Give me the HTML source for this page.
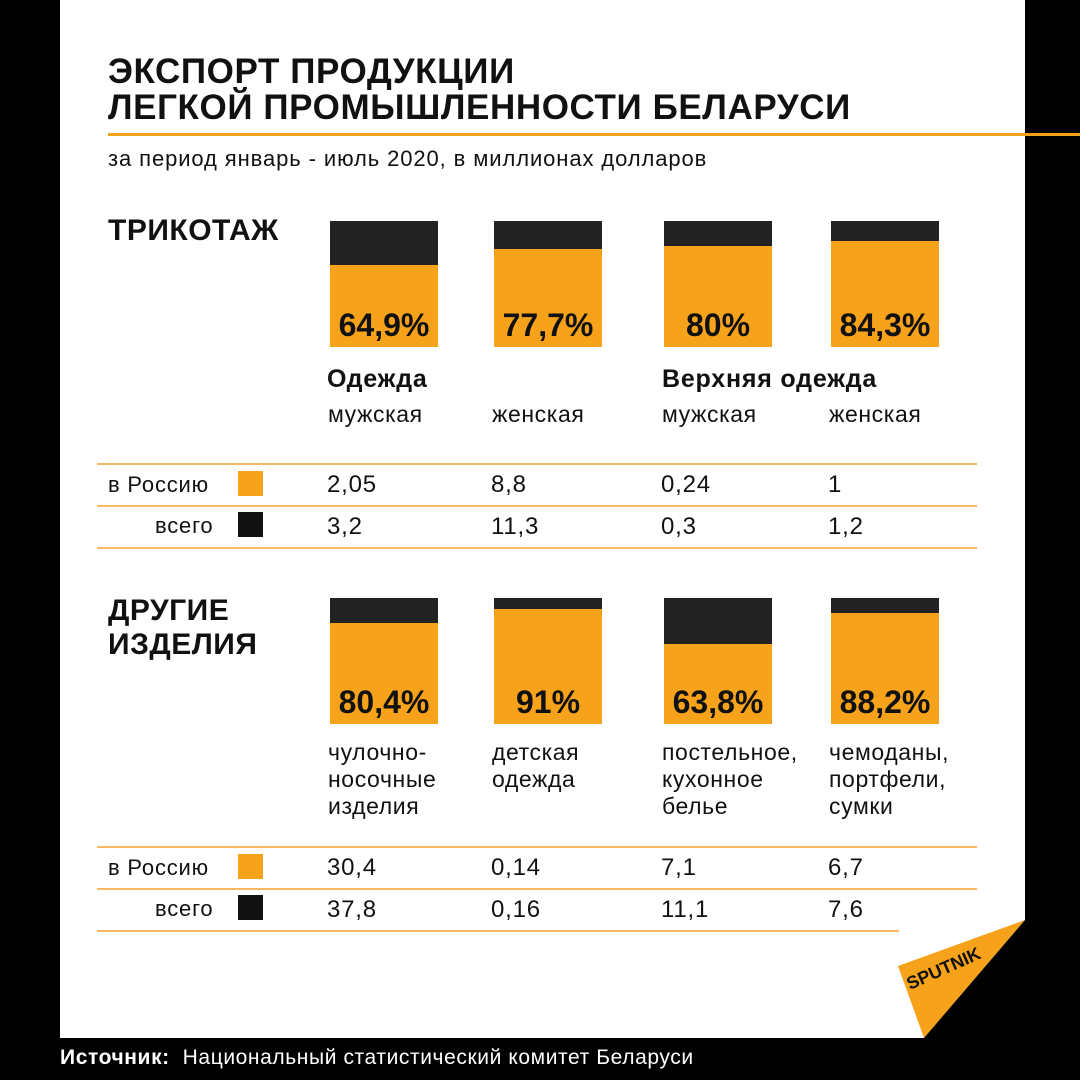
<!DOCTYPE html>
<html><head><meta charset="utf-8">
<style>
body{margin:0;width:1080px;height:1080px;background:#000;position:relative;overflow:hidden;font-family:"Liberation Sans",sans-serif;}
#panel{position:absolute;left:60px;top:0;width:965px;height:1038px;background:#fff;}
.abs{position:absolute;white-space:nowrap;}
.title{font-weight:bold;font-size:35px;left:108px;color:#111;letter-spacing:0.6px}
.sec{font-weight:bold;font-size:30px;left:108px;color:#111;line-height:34px;letter-spacing:0.5px}
.pct{font-weight:bold;font-size:32px;color:#111;text-align:center;width:108px}
.lab{font-size:23px;color:#111;line-height:27px;letter-spacing:0.6px}
.big{font-weight:bold;font-size:25px;color:#111;letter-spacing:0.8px}
.val{font-size:24px;color:#111;letter-spacing:0.8px}
.line{position:absolute;height:2px;background:#f7b964}
</style></head><body>
<div id="panel"></div>
<div class="abs title" style="top:52px">ЭКСПОРТ ПРОДУКЦИИ</div>
<div class="abs title" style="top:88px">ЛЕГКОЙ ПРОМЫШЛЕННОСТИ БЕЛАРУСИ</div>
<div class="abs" style="left:108px;top:133px;width:972px;height:3px;background:#f7a21b"></div>
<div class="abs" style="left:108px;top:146px;font-size:22px;letter-spacing:0.9px;color:#111">за период январь - июль 2020, в миллионах долларов</div>
<div class="abs sec" style="top:214px">ТРИКОТАЖ</div>
<div class="abs sec" style="top:594px">ДРУГИЕ<br>ИЗДЕЛИЯ</div>
<div id="charts"></div>
<div class="abs" style="left:60px;top:1046px;font-size:21px;letter-spacing:0.6px;color:#fff"><b>Источник:</b>&nbsp; Национальный статистический комитет Беларуси</div>
<svg class="abs" style="left:0;top:0" width="1080" height="1080">
<polygon points="898,966 1025,920 924,1038" fill="#f7a21b"/>
<polygon points="1025,920 1025,1038 924,1038" fill="#000"/>
<text x="0" y="0" transform="translate(910,990) rotate(-24)" font-family="Liberation Sans" font-weight="bold" font-size="18" fill="#111">SPUTNIK</text>
</svg>
<script>
const cats1=["мужская","женская","мужская","женская"];
const pct1=[64.9,77.7,80,84.3];
const pctLabels1=["64,9%","77,7%","80%","84,3%"];
const russia1=["2,05","8,8","0,24","1"];
const total1=["3,2","11,3","0,3","1,2"];
const cats2=["чулочно-<br>носочные<br>изделия","детская<br>одежда","постельное,<br>кухонное<br>белье","чемоданы,<br>портфели,<br>сумки"];
const pct2=[80.4,91,63.8,88.2];
const pctLabels2=["80,4%","91%","63,8%","88,2%"];
const russia2=["30,4","0,14","7,1","6,7"];
const total2=["37,8","0,16","11,1","7,6"];
const colX=[330,494,664,831];
const root=document.getElementById('charts');
function yScale(p,top,h){return top+h-h*p/100;}
function mk(cls,style,html){const d=document.createElement('div');d.className=cls;d.style.cssText=style;d.innerHTML=html;root.appendChild(d);return d;}
function group(pcts,labels,cats,rus,tot,top,catTop,tTop,lastW){
  const h=126,w=108;
  pcts.forEach((p,i)=>{
    const bg=mk('abs',`left:${colX[i]}px;top:${top}px;width:${w}px;height:${h}px;background:#222`,'');
    
    
    const y=yScale(p,top,h);
    const o=mk('abs',`left:${colX[i]}px;top:${y}px;width:${w}px;height:${top+h-y}px;background:#f7a21b`,'');
    
    
    const l=mk('abs pct',`left:${colX[i]}px;top:${top+h-40}px`,labels[i]);
    
    
    const c=mk('abs lab',`left:${colX[i]-2}px;top:${catTop}px`,cats[i]);
    
    
    const r=mk('abs val',`left:${colX[i]-3}px;top:${tTop+8}px`,rus[i]);
    
    
    const t=mk('abs val',`left:${colX[i]-3}px;top:${tTop+50}px`,tot[i]);
    
    
  });
  [[tTop,880],[tTop+42,880],[tTop+84,lastW]].forEach(([y,wd])=>{
    const ln=mk('line',`left:97px;top:${y}px;width:${wd}px`,'');
    
    
  });
  const a=mk('abs val',`left:108px;top:${tTop+9}px;font-size:22px`,'в Россию');
  
  
  const b=mk('abs val',`left:155px;top:${tTop+50}px;font-size:22px`,'всего');
  
  
  const s1=mk('abs',`left:238px;top:${tTop+8}px;width:25px;height:25px;background:#f7a21b`,'');
  
  
  const s2=mk('abs',`left:238px;top:${tTop+49}px;width:25px;height:25px;background:#111`,'');
  
  
}
group(pct1,pctLabels1,cats1,russia1,total1,221,401,463,880);
group(pct2,pctLabels2,cats2,russia2,total2,598,739,846,802);
const h1=mk('abs big','left:327px;top:365px','Одежда');


const h2=mk('abs big','left:662px;top:365px','Верхняя одежда');


</script>
</body></html>
